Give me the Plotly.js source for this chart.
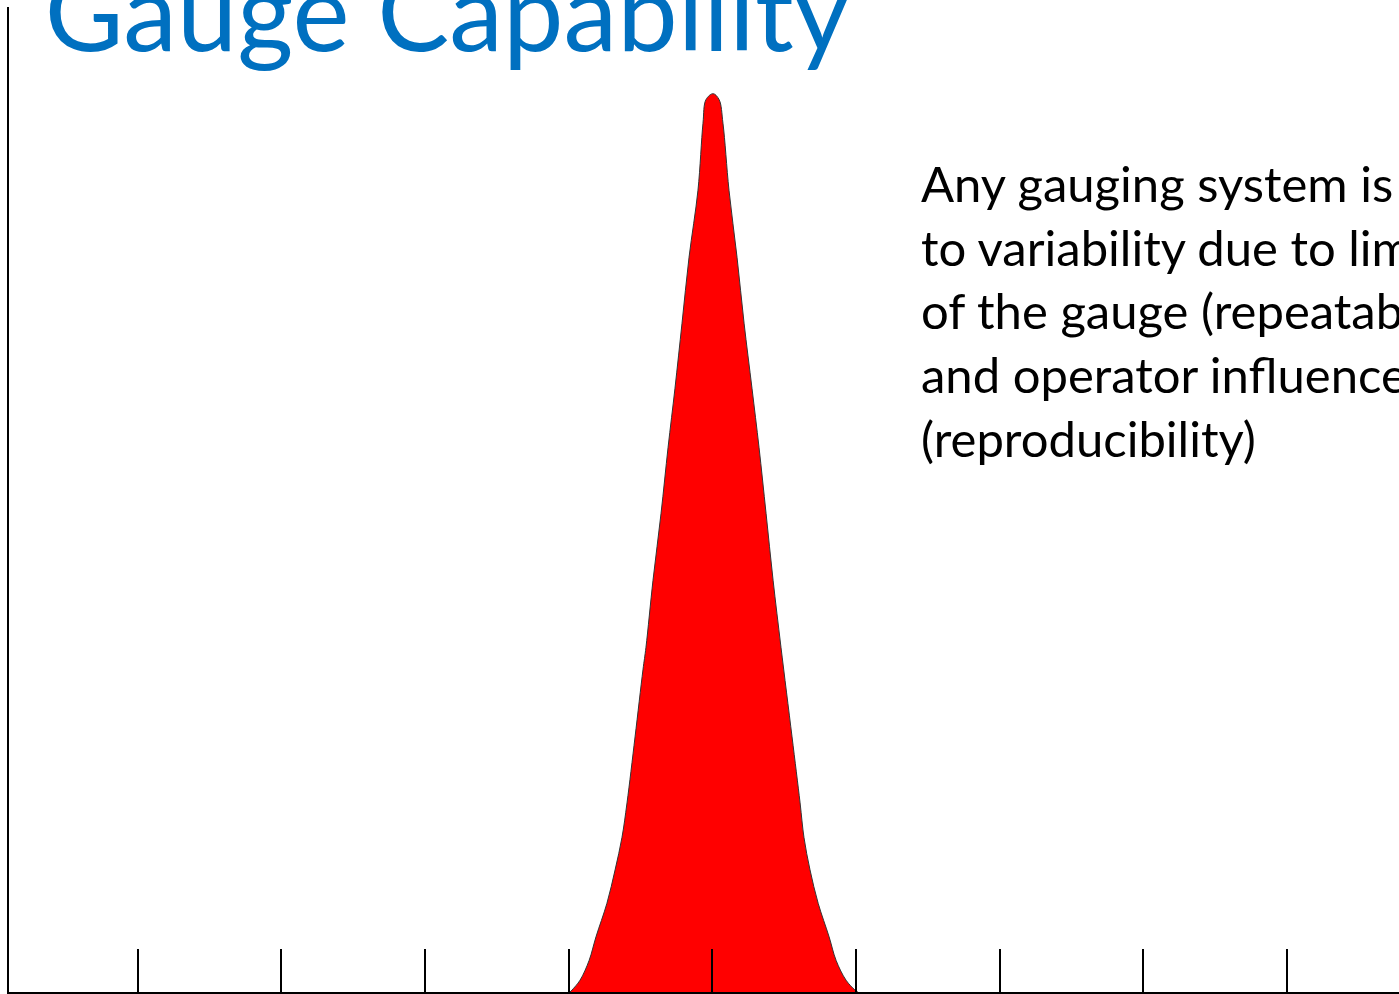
<!DOCTYPE html>
<html>
<head>
<meta charset="utf-8">
<script src="https://cdn.plot.ly/plotly-3.0.1.min.js"></script>
<style>
  html, body { margin: 0; padding: 0; overflow: hidden; background: #fff; }
  #chart { width: 1399px; height: 994px; }
</style>
</head>
<body>
<div id="chart"></div>
<script>
// Measurement axis (tick units) and relative frequency of the gauge reading distribution
const measurement = [-0.991, -0.977, -0.921, -0.858, -0.810, -0.734, -0.677, -0.629, -0.594, -0.538, -0.483, -0.462,
  -0.413, -0.357, -0.308, -0.260, -0.211, -0.162, -0.100, -0.065, -0.044, 0.005,
  0.047, 0.074, 0.116, 0.172, 0.221, 0.276, 0.325, 0.374, 0.423, 0.478,
  0.555, 0.611, 0.638, 0.680, 0.737, 0.813, 0.862, 0.931, 0.993, 1.013];
const frequency = [0.000, 0.002, 0.012, 0.032, 0.056, 0.090, 0.124, 0.157, 0.192, 0.259, 0.327, 0.350,
  0.418, 0.486, 0.553, 0.613, 0.679, 0.746, 0.814, 0.882, 0.906, 0.912,
  0.906, 0.882, 0.814, 0.746, 0.679, 0.613, 0.553, 0.486, 0.418, 0.350,
  0.259, 0.192, 0.157, 0.124, 0.090, 0.056, 0.032, 0.012, 0.002, 0.000];
const tickPositions = [-4, -3, -2, -1, 0, 1, 2, 3, 4];
const titleText = "Gauge Capability";
const noteLines = [
  "Any gauging system is subject",
  "to variability due to limitations",
  "of the gauge (repeatability)",
  "and operator influence",
  "(reproducibility)"
];

const trace = {
  x: measurement,
  y: frequency,
  type: 'scatter',
  mode: 'lines',
  line: { color: '#333333', width: 1, shape: 'spline', smoothing: 1.0 },
  fill: 'tozeroy',
  fillcolor: '#FF0000',
  hoverinfo: 'skip',
  showlegend: false
};

const layout = {
  width: 1399,
  height: 994,
  margin: { l: 9, r: 0, t: 7, b: 2, pad: 0 },
  paper_bgcolor: '#ffffff',
  plot_bgcolor: '#ffffff',
  showlegend: false,
  title: {
    text: titleText,
    font: { family: 'Lato, "Open Sans", sans-serif', size: 108, color: '#0070C0' },
    xref: 'container', yref: 'container',
    x: 0.032, xanchor: 'left',
    y: 0.9864, yanchor: 'middle'
  },
  xaxis: {
    range: [-4.897, 4.781],
    showgrid: false, zeroline: false,
    showline: true, linecolor: '#000000', linewidth: 2,
    ticks: 'inside', tickvals: tickPositions, ticklen: 43, tickwidth: 2, tickcolor: '#000000',
    showticklabels: false, fixedrange: true
  },
  yaxis: {
    range: [0, 1],
    showgrid: false, zeroline: false,
    showline: true, linecolor: '#000000', linewidth: 2,
    ticks: '', showticklabels: false, fixedrange: true
  },
  annotations: [{
    text: noteLines.join('<br>'),
    xref: 'paper', yref: 'paper',
    x: 0.6547, xanchor: 'left',
    y: 0.8528, yanchor: 'top',
    align: 'left', showarrow: false,
    font: { family: 'Lato, "Open Sans", sans-serif', size: 49, color: '#000000' }
  }]
};

Plotly.newPlot('chart', [trace], layout, { displayModeBar: false, staticPlot: true });
</script>
</body>
</html>
